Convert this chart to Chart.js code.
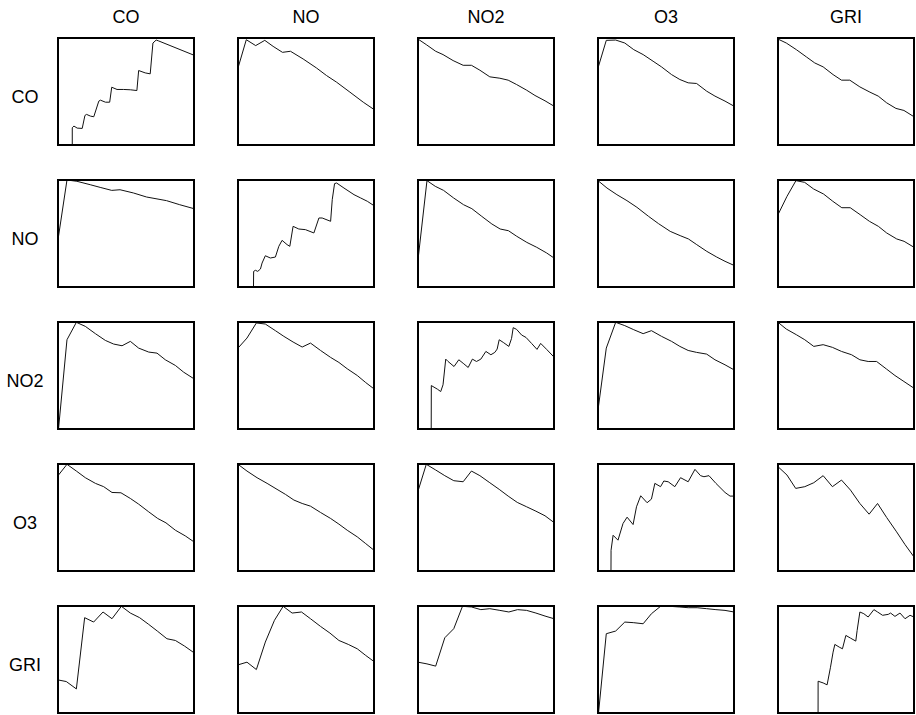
<!DOCTYPE html>
<html>
<head>
<meta charset="utf-8">
<script src="https://cdn.jsdelivr.net/npm/chart.js@4.4.0/dist/chart.umd.min.js"></script>
<style>
  body { margin: 0; background: #fff; font-family: "Liberation Sans", Arial, Helvetica, sans-serif; }
  #page { position: relative; width: 916px; height: 715px; overflow: hidden; }
  .lbl { position: absolute; font-size: 18px; line-height: 18px; color: #000; text-align: center; }
  .cell { position: absolute; }
</style>
</head>
<body>
<div id="page"></div>
<script>
var variables = ["CO", "NO", "NO2", "O3", "GRI"];

// each cell: [lag position (0-100 across the box), value (0-100 of box height)]
// values below 0 run off the bottom of the box

// row CO
var co_co = [[0,-150],[10.3,-150],[10.5,16.1],[11.7,17.7],[14.1,15.8],[17.8,15.5],[19.8,27.6],[21,28.6],[23.9,27],[26.3,26.4],
  [30,41],[31.2,41.9],[34.9,40],[38,40],[39.5,54],[43.4,51.9],[48.3,51.9],[53.2,51.6],[58,50.9],
  [59.3,69.6],[64.1,67.4],[67.8,66.5],[69.8,95.3],[72.2,98.1],[74.1,97.2],[100,83.9]];
var co_no = [[0,72],[6.1,98.4],[13,92.9],[19.7,97.8],[25.8,92.2],[32.7,86.6],[38.6,87.6],[47.9,80.4],[57.7,72],
  [65.1,64.9],[72.5,58.7],[82.3,49.4],[92.1,40],[100,33.2]];
var co_no2 = [[0,99],[6.1,93.8],[13,87.6],[18.4,84.5],[25.8,78.9],[33.2,74.5],[39.3,74.5],[45.5,69.9],[52.8,63.7],
  [60.2,62.4],[66.3,60.6],[72.5,56.5],[79.9,51.2],[86,46.3],[93.4,41.3],[100,36.3]];
var co_o3 = [[0,72],[6.1,97.8],[13,98.1],[19.7,95.3],[26.3,89.1],[33.2,84.5],[40.5,78.3],[46.7,73],[54.1,65.8],
  [60.2,61.2],[66.3,58.1],[72.5,57.5],[79.9,50.3],[86,45.7],[93.4,41],[100,36.3]];
var co_gri = [[0,99],[6.1,95.3],[13.5,89.1],[20.9,82.3],[27,76.7],[33.2,73],[40.5,65.8],[46.7,60.6],[52.8,60.6],
  [60.2,54.3],[67.6,49.4],[73.7,45.7],[79.9,39.4],[86.7,34.2],[92.6,32.3],[100,26.4]];

// row NO
var no_co = [[0,44.2],[6.6,100],[13.9,98.8],[23.7,95.6],[31,93.1],[39.5,90.3],[45.6,90.9],[55.4,87.9],[65.1,84.1],
  [79.8,80.7],[89.5,76.9],[100,73.2]];
var no_no = [[0,-150],[10.2,-150],[11.5,14.6],[12.8,15.6],[14.5,14.6],[16.5,16.8],[17.7,22.4],[20.1,29.2],[23.8,27.1],
  [27.5,28],[30,38],[32.4,43.6],[36.1,39.6],[38.1,38],[40.5,56.7],[44.7,54.2],[49.6,53.6],[55.8,50.5],[59.5,64.5],
  [61.9,64.5],[68.1,61.4],[69.3,81.6],[71,96.6],[72.5,97.2],[77.9,92.5],[85.3,86.3],[90.2,83.2],[95.1,80.1],[100,76]];
var no_no2 = [[0,25.5],[6.6,99.4],[12.7,94.1],[18.8,90.3],[26.2,83.2],[33.5,76.9],[39.6,73.2],[46.9,66],[54.3,58.9],
  [60.4,54.2],[66.5,52.6],[72.6,47.4],[80,41.7],[87.3,37.1],[94.6,31.8],[100,27.1]];
var no_o3 = [[0,99.4],[6.6,92.5],[13.9,86.3],[21.3,80.7],[28.6,74.5],[37.2,66],[44.5,59.2],[53.1,52],[60.4,48],
  [66.5,44.9],[72.6,39.6],[80,33.3],[87.3,28],[93.4,24],[100,20.2]];
var no_gri = [[0,67.6],[6.6,84.7],[13.2,99.4],[19.6,97.8],[26.2,91.6],[33.5,86.9],[40.3,80.1],[46.9,74.1],[53.1,74.1],
  [60.4,67.6],[67.2,61.4],[73.8,56.7],[79.9,50.5],[87.3,44.9],[92.7,42.7],[100,37.1]];

// row NO2
var no2_co = [[0,-5],[6.6,83.4],[13.5,99.7],[20.1,95.9],[27.5,89.1],[34.8,82.8],[40.9,79.4],[47.1,77.8],[53.2,81.9],
  [59.3,75.6],[66.7,71.9],[72.8,70.9],[78.9,64.7],[86.3,59.4],[92.4,53.1],[100,46.9]];
var no2_no = [[0,75.6],[6.6,85],[13.5,99.1],[20.1,98.1],[27.5,91.9],[33.7,86.6],[40.5,81.3],[47.2,76.6],[53.3,80.3],
  [60.7,73.4],[68.1,66.9],[74.2,62.2],[80.3,56.3],[87.7,50],[93.9,43.4],[100,37.5]];
var no2_no2 = [[0,-150],[9.4,-150],[9.8,40.6],[14.3,37.2],[16.7,35],[18.4,41.3],[20.4,65.3],[22.1,63.1],[26.5,58.4],
  [30,64.7],[33.7,60.9],[36.9,57.5],[40,65.3],[43,63.1],[46.2,65.3],[49.9,72.5],[53.6,69.4],[56.5,71.6],[58.2,74.7],
  [59.7,83.4],[62.7,80.9],[66.8,77.2],[68.8,84.7],[70,94.7],[72.5,93.1],[76.2,87.8],[79.4,85.6],[83.5,80],[87.5,74.4],
  [90.2,80],[94.6,74.4],[100,67.2]];
var no2_o3 = [[0,17.8],[6.1,75.6],[13,99.7],[19.7,96.6],[26.3,92.8],[33.2,89.1],[39.3,91.9],[46.7,86.6],[54.1,81.9],
  [60.2,77.2],[66.3,73.4],[72.5,71.6],[79.9,70],[86,64.7],[93.4,60],[100,55.3]];
var no2_gri = [[0,99.7],[6.1,93.4],[13.5,88.1],[19.7,83.4],[26.3,77.2],[33.2,78.8],[40,76.3],[46.7,72.5],[54.1,69.4],
  [60.2,64.7],[66.3,63.1],[72.5,63.1],[79.9,55.9],[86,50],[92.6,44.4],[100,38.1]];

// row O3
var o3_co = [[0,89.1],[6.6,99.7],[13.5,93.4],[20.1,87.2],[27.5,81.9],[33.6,78.8],[39.7,73.4],[46.3,73.1],[53.2,67.8],
  [59.3,62.5],[66.7,55.3],[73.3,49.1],[79.4,45],[86.3,38.1],[93.6,32.8],[100,27.2]];
var o3_no = [[0,99.7],[6.6,93.4],[14,87.2],[21.4,81.9],[28.7,76.3],[34.9,71.6],[41.1,66.3],[47.2,63.1],[53.3,60.6],
  [60.7,54.7],[68.1,49.1],[74.2,43.8],[80.3,38.1],[87.7,31.9],[93.9,25.6],[100,19.4]];
var o3_no2 = [[0,74.7],[6.1,99.7],[13,94.4],[19.7,89.1],[26.3,84.4],[33.2,83.4],[39.3,93.4],[45.5,89.1],[52.8,82.5],
  [59.7,76.3],[66.3,70],[73,64.1],[79.9,60],[86.7,55.9],[93.4,51.6],[100,45.3]];
var o3_o3 = [[0,-150],[9.1,-150],[9.6,19.4],[11.1,33.4],[14.7,28.8],[18.4,44.4],[21.4,50.3],[25.8,43.4],[28.3,60],
  [31.4,70.3],[36.1,63.8],[39.3,67.2],[41.8,81.9],[46,78.8],[48.4,84.1],[51.6,83.4],[56.5,78.8],[60.7,87.2],[66.3,83.4],
  [71.3,95],[75.4,89.1],[77.9,88.1],[81.6,89.1],[86.7,81.9],[93.4,73.4],[97.1,70],[100,70]];
var o3_gri = [[0,97.5],[6.6,89.7],[13,77.2],[19.7,78.8],[26.3,82.5],[33.2,89.1],[40,78.8],[46.7,85],[53.3,75.6],
  [60.2,63.1],[67,53.1],[73.2,63.1],[79.9,50],[87.2,36.6],[93.4,24.7],[100,13.1]];

// row GRI
var gri_co = [[0,30.9],[6.1,29.4],[13.5,22.5],[19.6,89.1],[26.2,85],[33.1,94.4],[39.7,88.1],[46.6,99.7],[53.2,93.4],
  [60,89.1],[66.7,82.8],[73.3,76.3],[80.1,69.4],[86.3,67.8],[93.1,62.5],[100,56.3]];
var gri_no = [[0,45],[6.6,47.5],[13.5,40.6],[20.1,66.3],[26.8,86.6],[33.2,99.7],[39.8,93.4],[46.7,94.4],[53.3,88.1],
  [60.7,80.9],[67.6,74.7],[74.2,67.8],[81.1,64.1],[87.7,60],[93.9,53.8],[100,48.1]];
var gri_no2 = [[0,47.5],[6.6,45.9],[13,43.8],[19.7,70.3],[26.3,78.8],[32.7,99.7],[39.3,99.1],[46.2,96.6],[52.8,97.5],
  [60.2,95.9],[66.8,94.4],[73.2,96.6],[79.9,95.9],[86.7,93.4],[93.4,90.6],[100,88.1]];
var gri_o3 = [[0,-5],[6.1,74.1],[13,76.6],[19.7,85],[26.3,84.4],[33.2,83.4],[39.3,92.8],[46,99.7],[52.8,99.7],
  [59.7,99.1],[66.3,98.4],[72.9,98.4],[79.9,97.5],[86.7,96.6],[93.4,95.9],[100,94.4]];
var gri_gri = [[0,-150],[29.3,-150],[29.5,29.7],[33.2,28.1],[36.1,26.3],[38.6,42.8],[40.5,56.9],[41.8,64.1],[45,61.6],
  [47.4,60],[49.9,72.5],[53.3,70],[57.2,67.2],[58.2,77.2],[60.2,94.4],[63.1,92.8],[66.3,89.7],[70.5,96.6],[73.2,94.4],
  [76.9,91.3],[81.1,92.2],[82.8,93.4],[86,90.3],[89.7,93.4],[93.4,88.1],[97.1,91.3],[100,89.7]];

var grid = [
  [co_co, co_no, co_no2, co_o3, co_gri],
  [no_co, no_no, no_no2, no_o3, no_gri],
  [no2_co, no2_no, no2_no2, no2_o3, no2_gri],
  [o3_co, o3_no, o3_no2, o3_o3, o3_gri],
  [gri_co, gri_no, gri_no2, gri_o3, gri_gri]
];

var page = document.getElementById('page');
var boxW = 136, boxH = 107, pad = 3;
var colLeft = [58, 238, 418, 598, 778];
var rowTop = [38, 180, 322, 464, 606];

// box round each small plot
const frame = {
  id: 'frame',
  afterDatasetsDraw(chart) {
    const a = chart.chartArea, ctx = chart.ctx;
    ctx.save();
    ctx.strokeStyle = '#000';
    ctx.lineWidth = 2;
    ctx.strokeRect(a.left, a.top, a.right - a.left, a.bottom - a.top);
    ctx.restore();
  }
};

function addLabel(text, left, top, width) {
  var d = document.createElement('div');
  d.className = 'lbl';
  d.style.left = left + 'px';
  d.style.top = top + 'px';
  d.style.width = width + 'px';
  d.textContent = text;
  page.appendChild(d);
}

variables.forEach(function (v, c) {
  addLabel(v, colLeft[c], 8, boxW);
});
variables.forEach(function (v, r) {
  addLabel(v, 0, rowTop[r] + 50, 50);
});

for (var r = 0; r < 5; r++) {
  for (var c = 0; c < 5; c++) {
    var wrap = document.createElement('div');
    wrap.className = 'cell';
    wrap.style.left = (colLeft[c] - pad) + 'px';
    wrap.style.top = (rowTop[r] - pad) + 'px';
    wrap.style.width = (boxW + 2 * pad) + 'px';
    wrap.style.height = (boxH + 2 * pad) + 'px';
    var cv = document.createElement('canvas');
    wrap.appendChild(cv);
    page.appendChild(wrap);

    new Chart(cv, {
      type: 'line',
      data: {
        datasets: [{
          data: grid[r][c].map(function (p) { return { x: p[0], y: p[1] }; }),
          borderColor: '#111',
          borderWidth: 1,
          pointRadius: 0,
          tension: 0,
          fill: false
        }]
      },
      options: {
        responsive: true,
        maintainAspectRatio: false,
        animation: false,
        layout: { padding: pad },
        plugins: { legend: { display: false }, tooltip: { enabled: false } },
        scales: {
          x: { type: 'linear', min: 0, max: 100, display: false },
          y: { min: 0, max: 100, display: false }
        }
      },
      plugins: [frame]
    });
  }
}
</script>
</body>
</html>
